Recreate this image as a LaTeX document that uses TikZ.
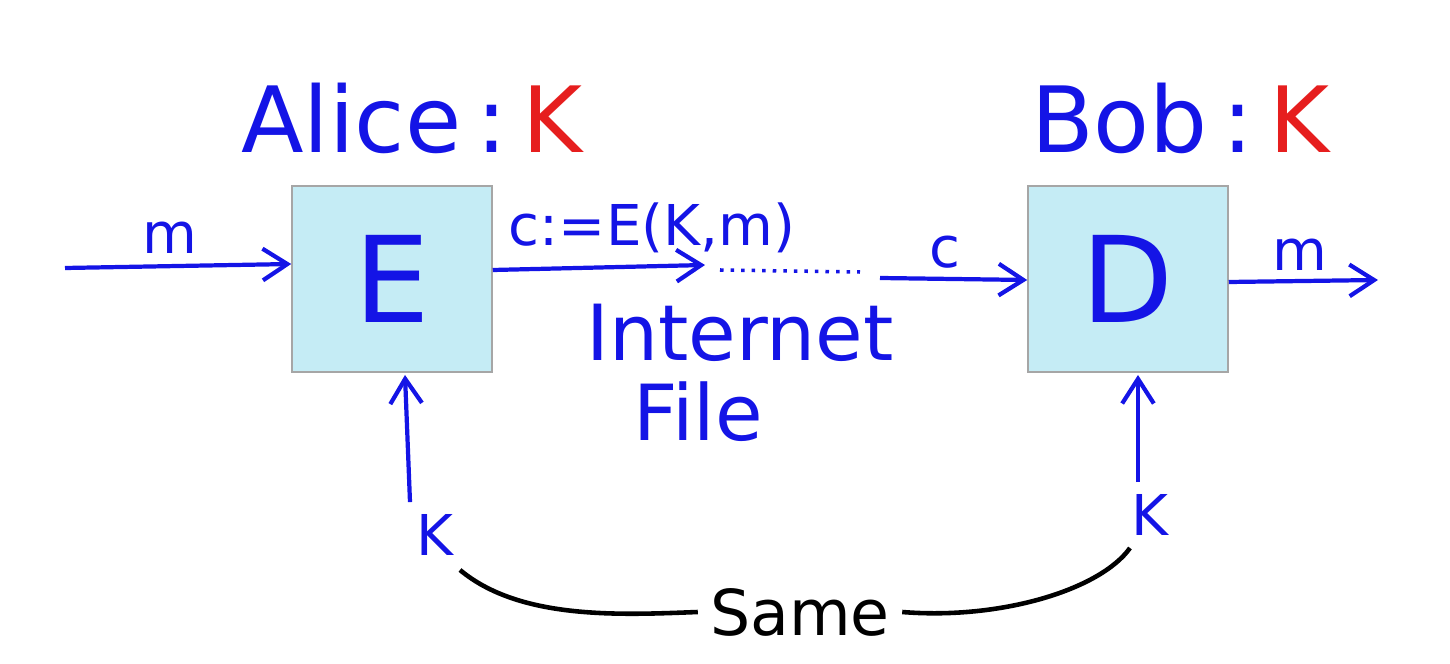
\documentclass[tikz,border=0pt]{standalone}
\usepackage{fontspec}
\setmainfont{DejaVu Sans}
\usetikzlibrary{arrows.meta}
\definecolor{pen}{RGB}{20,20,230}
\definecolor{redpen}{RGB}{230,30,30}
\definecolor{boxfill}{RGB}{197,236,245}
\begin{document}
\begin{tikzpicture}[x=0.01cm,y=-0.01cm,
  blk/.style={draw=gray!70,fill=boxfill,minimum width=2cm,minimum height=1.86cm,inner sep=0pt,font=\fontsize{34}{34}\selectfont,text=pen},
  lab/.style={text=pen,font=\fontsize{16}{16}\selectfont},
  arr/.style={pen,line width=1.2pt,-{Straight Barb[length=7pt,width=9pt]}}]
\useasboundingbox (0,0) rectangle (1450,664);
\node[blk] (E) at (392,279) {E};
\node[blk] (D) at (1128,279) {D};
\node[lab,font=\fontsize{26}{26}\selectfont] (alice) at (412,118) {Alice\,:\,\textcolor{redpen}{K}};
\node[lab,font=\fontsize{26}{26}\selectfont] (bob) at (1180,118) {Bob\,:\,\textcolor{redpen}{K}};
\coordinate (min) at (65,268);
\draw[arr] (min) -- (E.west |- 0,264);
\node[lab] (m1) at (170,238) {m};
\coordinate (c1) at (705,265);
\draw[arr] (E.east |- 0,270) -- (c1);
\coordinate (c2) at (860,272);
\draw[pen,line width=1pt,dotted] (720,270) -- (c2);
\coordinate (c3) at (880,278);
\draw[arr] (c3) -- (D.west |- 0,280);
\node[lab,font=\fontsize{16}{16}\selectfont] (ce) at (652,228) {c:=E(K,m)};
\node[lab] (c) at (945,252) {c};
\node[lab,font=\fontsize{22}{22}\selectfont] (inet) at (740,333) {Internet};
\node[lab,font=\fontsize{22}{22}\selectfont] (file) at (698,412) {File};
\coordinate (mout) at (1378,280);
\draw[arr] (D.east |- 0,282) -- (mout);
\node[lab] (m2) at (1300,255) {m};
\node[lab] (k1) at (435,535) {K};
\node[lab] (k2) at (1150,515) {K};
\draw[arr] (k1.north) ++(-25,0) -- (405,375);
\draw[arr] (k2.north) ++(-12,0) -- (1138,375);
\node[font=\fontsize{18}{18}\selectfont] (same) at (800,612) {Same};
\draw[line width=1.3pt] (460,570) .. controls (520,620) and (620,615) .. (same.west);
\draw[line width=1.3pt] (same.east) .. controls (1000,620) and (1100,590) .. (1130,548);
\end{tikzpicture}
\end{document}
